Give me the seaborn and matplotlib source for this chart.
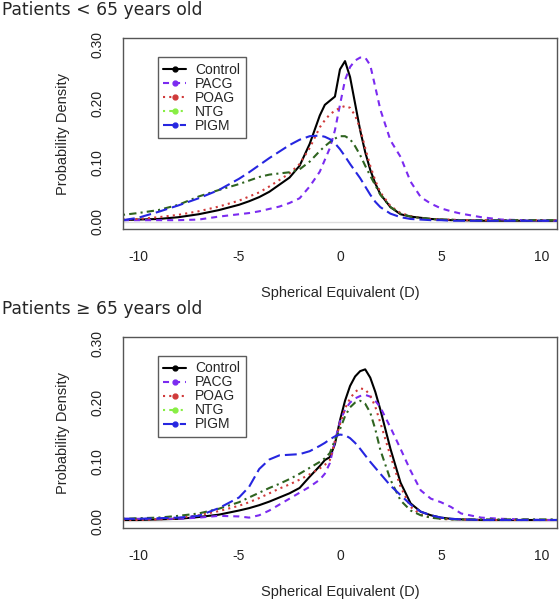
import matplotlib
matplotlib.use("Agg")
import matplotlib.pyplot as plt
from matplotlib.lines import Line2D
import numpy as np
import pandas as pd
import seaborn as sns

# spherical equivalent grid (D)
se = [-10.75, -10, -9, -8, -7, -6, -5, -4.5, -4, -3.5, -3, -2.5, -2, -1.5, -1,
      -0.75, -0.5, -0.25, 0, 0.25, 0.5, 0.75, 1, 1.25, 1.5, 1.75, 2, 2.5, 3,
      3.5, 4, 4.5, 5, 5.5, 6, 7, 8, 9, 10, 10.75]
groups = ["Control", "PACG", "POAG", "NTG", "PIGM"]

# Patients < 65 years old
young_control = [0.003, 0.004, 0.005, 0.008, 0.013, 0.020, 0.029, 0.035, 0.042, 0.051, 0.063,
                 0.075, 0.095, 0.132, 0.180, 0.198, 0.205, 0.212, 0.258, 0.272, 0.245, 0.200,
                 0.155, 0.118, 0.088, 0.065, 0.047, 0.025, 0.013, 0.009, 0.007, 0.005, 0.004,
                 0.003, 0.003, 0.002, 0.002, 0.002, 0.002, 0.002]
young_pacg = [0.003, 0.003, 0.003, 0.003, 0.004, 0.009, 0.013, 0.015, 0.018, 0.022, 0.026,
              0.032, 0.040, 0.060, 0.085, 0.105, 0.125, 0.155, 0.198, 0.240, 0.262, 0.273,
              0.278, 0.278, 0.265, 0.228, 0.190, 0.138, 0.110, 0.068, 0.042, 0.031, 0.023,
              0.018, 0.014, 0.008, 0.004, 0.003, 0.002, 0.002]
young_poag = [0.004, 0.005, 0.008, 0.012, 0.018, 0.026, 0.036, 0.043, 0.050, 0.060, 0.071,
              0.082, 0.098, 0.125, 0.160, 0.172, 0.182, 0.188, 0.193, 0.196, 0.193, 0.180,
              0.158, 0.125, 0.095, 0.070, 0.050, 0.027, 0.015, 0.010, 0.007, 0.005, 0.004,
              0.004, 0.003, 0.003, 0.003, 0.003, 0.003, 0.003]
young_ntg = [0.012, 0.015, 0.020, 0.029, 0.043, 0.054, 0.064, 0.070, 0.076, 0.080, 0.082,
             0.084, 0.089, 0.102, 0.120, 0.128, 0.135, 0.141, 0.145, 0.145, 0.140, 0.128,
             0.113, 0.095, 0.078, 0.062, 0.046, 0.025, 0.014, 0.009, 0.007, 0.005, 0.004,
             0.004, 0.003, 0.003, 0.003, 0.003, 0.003, 0.003]
young_pigm = [0.003, 0.007, 0.017, 0.028, 0.040, 0.054, 0.073, 0.084, 0.096, 0.108, 0.119,
              0.130, 0.139, 0.145, 0.146, 0.144, 0.140, 0.133, 0.123, 0.111, 0.098, 0.086,
              0.074, 0.060, 0.046, 0.034, 0.025, 0.014, 0.008, 0.005, 0.004, 0.003, 0.003,
              0.002, 0.002, 0.002, 0.002, 0.002, 0.002, 0.002]

# Patients >= 65 years old
old_control = [0.002, 0.002, 0.003, 0.004, 0.007, 0.011, 0.018, 0.022, 0.027, 0.033, 0.040,
               0.047, 0.056, 0.075, 0.093, 0.103, 0.108, 0.130, 0.170, 0.203, 0.228, 0.244,
               0.253, 0.256, 0.242, 0.218, 0.188, 0.122, 0.065, 0.030, 0.016, 0.010, 0.006,
               0.004, 0.003, 0.002, 0.002, 0.002, 0.002, 0.002]
old_pacg = [0.004, 0.004, 0.004, 0.004, 0.006, 0.009, 0.008, 0.006, 0.010, 0.018, 0.028,
            0.038, 0.048, 0.058, 0.070, 0.080, 0.098, 0.135, 0.168, 0.188, 0.200, 0.207,
            0.211, 0.213, 0.210, 0.203, 0.192, 0.158, 0.122, 0.085, 0.052, 0.038, 0.032,
            0.024, 0.013, 0.006, 0.004, 0.003, 0.002, 0.002]
old_poag = [0.002, 0.002, 0.003, 0.005, 0.010, 0.017, 0.026, 0.032, 0.039, 0.047, 0.055,
            0.062, 0.070, 0.079, 0.089, 0.095, 0.103, 0.135, 0.163, 0.190, 0.207, 0.218,
            0.224, 0.222, 0.212, 0.193, 0.166, 0.110, 0.058, 0.024, 0.011, 0.006, 0.004,
            0.003, 0.003, 0.002, 0.002, 0.002, 0.002, 0.002]
old_ntg = [0.004, 0.005, 0.006, 0.009, 0.013, 0.021, 0.032, 0.040, 0.048, 0.056, 0.063,
           0.071, 0.080, 0.090, 0.100, 0.106, 0.115, 0.137, 0.155, 0.177, 0.192, 0.200,
           0.203, 0.198, 0.183, 0.155, 0.120, 0.070, 0.035, 0.018, 0.010, 0.006, 0.004,
           0.003, 0.003, 0.003, 0.003, 0.003, 0.003, 0.003]
old_pigm = [0.004, 0.004, 0.005, 0.006, 0.009, 0.022, 0.040, 0.058, 0.088, 0.104, 0.111,
            0.112, 0.113, 0.118, 0.127, 0.132, 0.138, 0.143, 0.146, 0.145, 0.140, 0.132,
            0.122, 0.111, 0.100, 0.090, 0.080, 0.060, 0.044, 0.028, 0.016, 0.010, 0.006,
            0.004, 0.003, 0.002, 0.002, 0.002, 0.002, 0.002]

panels = [
    ("Patients < 65 years old", [young_control, young_pacg, young_poag, young_ntg, young_pigm]),
    ("Patients \u2265 65 years old", [old_control, old_pacg, old_poag, old_ntg, old_pigm]),
]

colors = {"Control": "black", "PACG": "#7B2BF0", "POAG": "#D03A3A",
          "NTG": "#2F6420", "PIGM": "#2626E0"}
legend_colors = {"Control": "black", "PACG": "#7B2BF0", "POAG": "#D03A3A",
                 "NTG": "#88EE44", "PIGM": "#2626E0"}
dashes = {"Control": "", "PACG": (2.9, 2.4), "POAG": (1, 2),
          "NTG": (1, 2, 3.5, 2), "PIGM": (5.7, 2.4)}

sns.set_theme(style="white")
plt.rcParams["font.family"] = ["Liberation Sans", "DejaVu Sans"]
plt.rcParams["axes.unicode_minus"] = False

fig = plt.figure(figsize=(5.6, 6.0), dpi=100)
ax_pos = [(0.2196, 0.6183, 0.775, 0.3183), (0.2196, 0.1195, 0.775, 0.3193)]
title_y = [1 - 10 / 600, 1 - 309 / 600]

for (title, series), pos, ty in zip(panels, ax_pos, title_y):
    ax = fig.add_axes(pos)
    df = pd.concat([pd.DataFrame({"se": se, "density": vals, "group": g})
                    for g, vals in zip(groups, series)], ignore_index=True)
    ax.axhline(0, color="#dedede", lw=1.0, zorder=0)
    sns.lineplot(data=df, x="se", y="density", hue="group", style="group",
                 hue_order=groups, style_order=groups, palette=colors, dashes=dashes,
                 lw=1.5, estimator=None, legend=False, ax=ax)

    ax.set_xlim(-10.75, 10.75)
    ax.set_ylim(-0.012, 0.311)
    ax.set_xticks([-10, -5, 0, 5, 10])
    ax.set_yticks([0, 0.1, 0.2, 0.3])
    ax.set_yticklabels(["0.00", "0.10", "0.20", "0.30"])
    ax.set_yticks([0.05, 0.15, 0.25], minor=True)
    ax.tick_params(which="both", direction="out", length=6, width=0.8,
                   color="#333333", labelsize=10, labelcolor="#222222")
    ax.tick_params(axis="x", pad=9)
    ax.tick_params(axis="y", pad=7)
    plt.setp(ax.get_yticklabels(), rotation=90, va="center")
    ax.set_xlabel("Spherical Equivalent (D)", fontsize=10.5, labelpad=16)
    ax.set_ylabel("Probability Density", fontsize=10.5, labelpad=15)
    for sp in ax.spines.values():
        sp.set_visible(True)
        sp.set_color("#555555")
        sp.set_linewidth(1.0)

    handles = [Line2D([0], [0], color=legend_colors[g], marker="o", markersize=3.5,
                      lw=1.5, linestyle=(0, dashes[g]) if dashes[g] else "-")
               for g in groups]
    leg = ax.legend(handles, groups, loc="upper left", bbox_to_anchor=(0.08, 0.90),
                    borderaxespad=0, fontsize=10, frameon=True, fancybox=False,
                    handlelength=1.65, handletextpad=0.65, labelspacing=0.0,
                    borderpad=0.4, numpoints=1)
    leg.get_frame().set_edgecolor("#333333")
    leg.get_frame().set_linewidth(1.0)

    fig.text(0.003, ty, title, fontsize=12.3, va="center", ha="left",
             family=["DejaVu Sans"])

fig.savefig("out.png", dpi=100)
